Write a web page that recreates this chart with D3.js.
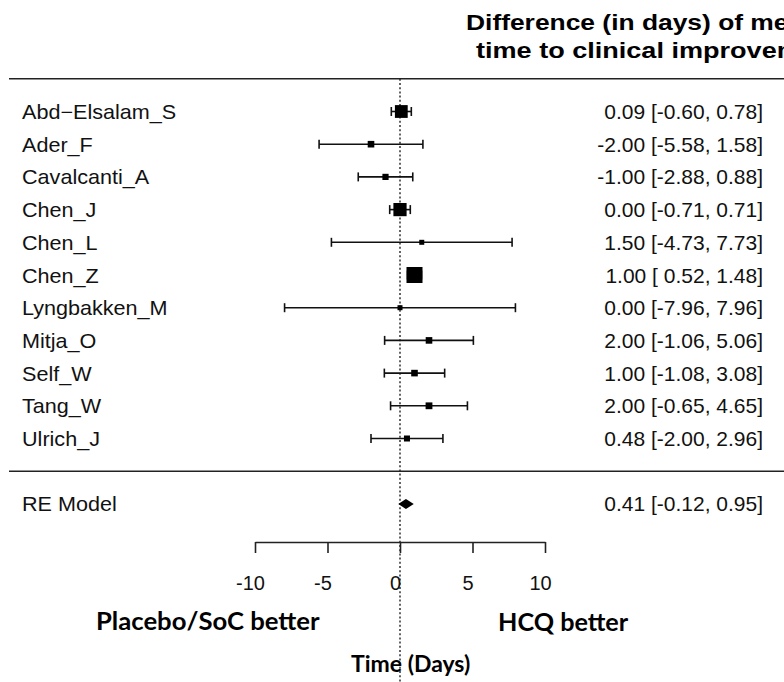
<!DOCTYPE html>
<html>
<head>
<meta charset="utf-8">
<script src="https://cdn.jsdelivr.net/npm/d3@7"></script>
<style>
  html, body { margin: 0; padding: 0; background: #fff; }
  svg { display: block; }
</style>
</head>
<body>
<script>
// ---- Data ----
const studies = ["Abd\u2212Elsalam_S", "Ader_F", "Cavalcanti_A", "Chen_J", "Chen_L", "Chen_Z",
                 "Lyngbakken_M", "Mitja_O", "Self_W", "Tang_W", "Ulrich_J"];
const estimates = [0.09, -2.00, -1.00, 0.00, 1.50, 1.00, 0.00, 2.00, 1.00, 2.00, 0.48];
const lowers    = [-0.60, -5.58, -2.88, -0.71, -4.73, 0.52, -7.96, -1.06, -1.08, -0.65, -2.00];
const uppers    = [0.78, 1.58, 0.88, 0.71, 7.73, 1.48, 7.96, 5.06, 3.08, 4.65, 2.96];
const weights   = [22, 6.5, 5.5, 23, 2.5, 30, 2.5, 6.5, 6.5, 7, 5];   // relative study weights (marker size)
const summaryLabel = "RE Model";
const summary = { est: 0.41, lo: -0.12, hi: 0.95 };
const tickValues = [-10, -5, 0, 5, 10];
const titleLines = ["Difference (in days) of median", "time to clinical improvement"];
const leftLabel = "Placebo/SoC better";
const rightLabel = "HCQ better";
const axisTitle = "Time (Days)";

// ---- Layout ----
const W = 784, H = 682;
const svg = d3.select("body").append("svg").attr("width", W).attr("height", H);

const x = d3.scaleLinear().domain([-10, 10]).range([255, 545]);
const row = d3.scaleLinear().domain([0, 10]).range([111.5, 438.5]);
const size = d3.scaleLinear().domain([0, 30]).range([4, 16]);

const fmt = v => (v < 0 ? "-" : "") + Math.abs(v).toFixed(2);
const fmtLo = v => (v < 0 ? "" : " ") + fmt(v);
const ciText = (e, l, h) => `${fmt(e)} [${fmtLo(l)}, ${fmt(h)}]`;

const FONT = "'Liberation Sans', Arial, Helvetica, sans-serif";
const textCol = "#111";

function sText(parent, str, px, py, opts = {}) {
  const g = parent.append("g")
    .attr("transform", `translate(${px},${py}) scale(${opts.sx || 1},1)`);
  return g.append("text")
    .attr("x", 0).attr("y", 0)
    .attr("text-anchor", opts.anchor || "start")
    .style("font-family", opts.family || FONT)
    .style("font-size", (opts.size || 20) + "px")
    .style("font-weight", opts.weight || "normal")
    .style("fill", opts.fill || textCol)
    .text(str);
}

// Title (cut by the right edge, as in the original figure)
sText(svg, titleLines[0], 466, 30, { size: 22, weight: "bold", sx: 1.2, fill: "#000" });
sText(svg, titleLines[1], 476, 58, { size: 22, weight: "bold", sx: 1.23, fill: "#000" });

// Horizontal rules
const ruleY = [row(-1), row(11)];
svg.selectAll("line.rule").data(ruleY).enter().append("line")
  .attr("class", "rule")
  .attr("x1", 9).attr("x2", W)
  .attr("y1", d => d).attr("y2", d => d)
  .attr("stroke", "#222").attr("stroke-width", 1.6);

// Reference dotted line at 0
svg.append("line")
  .attr("x1", x(0)).attr("x2", x(0))
  .attr("y1", row(-1)).attr("y2", H)
  .attr("stroke", "#222").attr("stroke-width", 1.4)
  .attr("stroke-dasharray", "2,2.2");

// Study rows
const data = studies.map((s, i) => ({
  name: s, est: estimates[i], lo: lowers[i], hi: uppers[i], w: weights[i], y: row(i)
}));

const rows = svg.selectAll("g.study").data(data).enter().append("g").attr("class", "study");

rows.append("line")
  .attr("x1", d => x(d.lo)).attr("x2", d => x(d.hi))
  .attr("y1", d => d.y).attr("y2", d => d.y)
  .attr("stroke", "#111").attr("stroke-width", 1.6);
rows.append("line")
  .attr("x1", d => x(d.lo)).attr("x2", d => x(d.lo))
  .attr("y1", d => d.y - 4.5).attr("y2", d => d.y + 4.5)
  .attr("stroke", "#111").attr("stroke-width", 1.6);
rows.append("line")
  .attr("x1", d => x(d.hi)).attr("x2", d => x(d.hi))
  .attr("y1", d => d.y - 4.5).attr("y2", d => d.y + 4.5)
  .attr("stroke", "#111").attr("stroke-width", 1.6);
rows.append("rect")
  .attr("x", d => x(d.est) - size(d.w) / 2)
  .attr("y", d => d.y - size(d.w) / 2)
  .attr("width", d => size(d.w))
  .attr("height", d => size(d.w))
  .attr("fill", "#000");

data.forEach(d => {
  sText(svg, d.name, 22, d.y + 7.5, { size: 20, sx: 1.08 });
  sText(svg, ciText(d.est, d.lo, d.hi), 763, d.y + 7.5, { size: 20, sx: 1.05, anchor: "end" });
});

// Summary diamond
const yRE = row(12);
svg.append("path")
  .attr("d", `M${x(summary.lo)},${yRE} L${x(summary.est)},${yRE - 5} L${x(summary.hi)},${yRE} L${x(summary.est)},${yRE + 5} Z`)
  .attr("fill", "#000");
sText(svg, summaryLabel, 22, yRE + 7.5, { size: 20, sx: 1.08 });
sText(svg, ciText(summary.est, summary.lo, summary.hi), 763, yRE + 7.5, { size: 20, sx: 1.05, anchor: "end" });

// Axis
const axisY = 542;
const axisG = svg.append("g")
  .attr("transform", `translate(0,${axisY})`)
  .call(d3.axisBottom(x).tickValues(tickValues).tickSize(11).tickSizeOuter(0).tickFormat(d3.format("d")));
axisG.select(".domain").attr("stroke", "#222").attr("stroke-width", 1.6);
axisG.selectAll(".tick line").attr("stroke", "#222").attr("stroke-width", 1.6);
axisG.selectAll(".tick text")
  .attr("y", 48).attr("dy", null).attr("dx", -5)
  .style("font-family", FONT).style("font-size", "20px").style("fill", textCol)
  .text(d => (d < 0 ? "-" : "") + Math.abs(d));

// Bottom annotations
const BFONT = "Lato, 'Open Sans', sans-serif";
sText(svg, leftLabel, 96, 630, { size: 24, weight: "bold", family: BFONT, fill: "#000", sx: 1.07 });
sText(svg, rightLabel, 498, 631, { size: 24, weight: "bold", family: BFONT, fill: "#000", sx: 1.05 });
sText(svg, axisTitle, 351, 672, { size: 22, weight: "bold", family: BFONT, fill: "#000", sx: 1.045 });
</script>
</body>
</html>
